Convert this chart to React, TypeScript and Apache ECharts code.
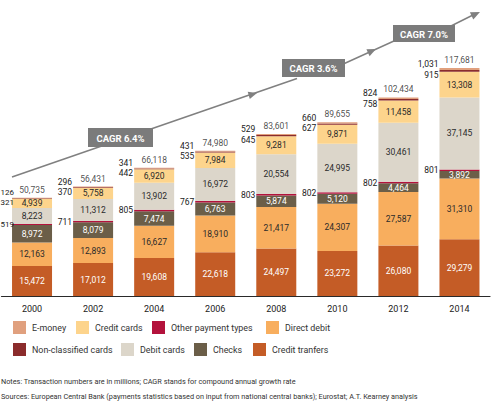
import React, { useEffect, useRef } from 'react';
import * as echarts from 'echarts';

const years = ['2000', '2002', '2004', '2006', '2008', '2010', '2012', '2014'];
const creditTransfers = [15472, 17012, 19608, 22618, 24497, 23272, 26080, 29279];
const directDebit = [12163, 12893, 16627, 18910, 21417, 24307, 27587, 31310];
const checks = [8972, 8079, 7474, 6763, 5874, 5120, 4464, 3892];
const otherPayment = [519, 711, 805, 767, 803, 802, 802, 801];
const debitCards = [8223, 11312, 13902, 16972, 20554, 24995, 30461, 37145];
const creditCards = [4939, 5758, 6920, 7984, 9281, 9871, 11458, 13308];
const nonClassified = [321, 370, 442, 535, 645, 627, 758, 915];
const eMoney = [126, 296, 341, 431, 529, 660, 824, 1031];
const totals = [50735, 56431, 66118, 74980, 83601, 89655, 102434, 117681];
const cagrLabels = ['CAGR 6.4%', 'CAGR 3.6%', 'CAGR 7.0%'];
const noteLines = [
  'Notes: Transaction numbers are in millions; CAGR stands for compound annual growth rate',
  'Sources: European Central Bank (payments statistics based on input from national central banks); Eurostat; A.T. Kearney analysis',
];

const FONT = 'Roboto, "Noto Sans", sans-serif';
const fmt = (v: number) => v.toLocaleString('en-US');

export default function App() {
  const ref = useRef<HTMLDivElement>(null);
  useEffect(() => {
    if (!ref.current) return;
    const chart = echarts.init(ref.current, null, { renderer: 'svg' });

    const insideLabel = (color: string) => ({
      show: true,
      position: 'inside',
      color,
      fontSize: 8.5,
      fontFamily: FONT,
      formatter: (p: any) => fmt(p.value),
    });
    const sideLabel = (dy: number) => ({
      show: true,
      position: 'left',
      distance: 1,
      offset: [0, dy],
      color: '#222',
      fontSize: 8.5,
      fontFamily: FONT,
      formatter: (p: any) => fmt(p.value),
    });
    // first bar sits at the chart's left edge: nudge its side labels inwards so they stay visible
    const sideData = (vals: number[], dy: number) =>
      vals.map((v, i) => (i === 0 ? { value: v, label: { offset: [3, dy], fontSize: 8 } } : v));

    const stackDefs: any[] = [
      { name: 'Credit tranfers', data: creditTransfers, color: '#c45c26', label: insideLabel('#ffffff') },
      { name: 'Direct debit', data: directDebit, color: '#f8ae5e', label: insideLabel('#2a2a2a') },
      { name: 'Checks', data: checks, color: '#6b5e48', label: insideLabel('#ffffff') },
      { name: 'Other payment types', data: sideData(otherPayment, 0), color: '#b3123c', label: sideLabel(0) },
      { name: 'Debit cards', data: debitCards, color: '#dcd6ca', label: insideLabel('#2a2a2a') },
      { name: 'Credit cards', data: creditCards, color: '#fdd48c', label: insideLabel('#2a2a2a') },
      { name: 'Non-classified cards', data: sideData(nonClassified, 4), color: '#8b2c2c', label: sideLabel(4) },
      { name: 'E-money', data: sideData(eMoney, -5), color: '#e0a07e', label: sideLabel(-5) },
    ];

    const series: any[] = stackDefs.map((d) => ({
      type: 'bar',
      name: d.name,
      stack: 'total',
      data: d.data,
      barWidth: 40,
      itemStyle: { color: d.color },
      label: d.label,
    }));
    series.push({
      type: 'scatter',
      name: 'Total',
      data: totals,
      symbolSize: 1,
      itemStyle: { color: 'rgba(0,0,0,0)' },
      label: {
        show: true,
        position: 'top',
        distance: 3,
        color: '#222',
        fontSize: 8.5,
        fontFamily: FONT,
        formatter: (p: any) => fmt(p.value),
      },
      z: 5,
    });

    const legendItems = [
      { name: 'E-money', left: 13, top: 321 },
      { name: 'Credit cards', left: 76, top: 321 },
      { name: 'Other payment types', left: 152, top: 321 },
      { name: 'Direct debit', left: 266, top: 321 },
      { name: 'Non-classified cards', left: 13, top: 343 },
      { name: 'Debit cards', left: 121, top: 343 },
      { name: 'Checks', left: 194, top: 343 },
      { name: 'Credit tranfers', left: 253, top: 343 },
    ];
    const legend = legendItems.map((it) => ({
      data: [it.name],
      left: it.left,
      top: it.top,
      padding: 0,
      icon: 'rect',
      itemWidth: 13,
      itemHeight: 13,
      selectedMode: false,
      textStyle: { fontSize: 8.9, color: '#333', fontFamily: FONT, padding: [0, 0, 0, 1] },
    }));

    const lineColor = '#808080';
    const boxColor = '#7b7b7b';
    const boxes = [
      { x: 88, y: 128, w: 65, h: 19 },
      { x: 282, y: 59, w: 63, h: 18 },
      { x: 393, y: 25, w: 62, h: 17 },
    ];
    const graphic: any[] = [
      {
        type: 'polyline',
        shape: { points: [[12, 177], [297, 78.5]] },
        style: { stroke: lineColor, lineWidth: 1.5, fill: null },
        z: 10,
      },
      {
        type: 'polyline',
        shape: { points: [[340, 65.5], [395, 40.5], [450, 26.5], [476, 13.5]] },
        style: { stroke: lineColor, lineWidth: 1.5, fill: null },
        z: 10,
      },
      {
        type: 'polygon',
        shape: { points: [[257, 93], [249.8, 99], [247.7, 91.7]] },
        style: { fill: lineColor },
        z: 11,
      },
      {
        type: 'polygon',
        shape: { points: [[376, 49], [369.6, 56.2], [366.4, 49.2]] },
        style: { fill: lineColor },
        z: 11,
      },
      {
        type: 'polygon',
        shape: { points: [[480, 12], [473.3, 19.5], [469.9, 12.3]] },
        style: { fill: lineColor },
        z: 11,
      },
    ];
    boxes.forEach((b, i) => {
      graphic.push({
        type: 'rect',
        shape: { x: b.x, y: b.y, width: b.w, height: b.h },
        style: { fill: boxColor },
        z: 12,
      });
      graphic.push({
        type: 'text',
        x: b.x + b.w / 2,
        y: b.y + b.h / 2 + 0.5,
        style: {
          text: cagrLabels[i],
          fill: '#ffffff',
          font: `bold 9.5px ${FONT}`,
          textAlign: 'center',
          textVerticalAlign: 'middle',
        },
        z: 13,
      });
    });
    noteLines.forEach((t, i) => {
      graphic.push({
        type: 'text',
        x: 1,
        y: 381 + i * 15,
        style: {
          text: t,
          fill: '#333',
          font: `7.3px ${FONT}`,
          textAlign: 'left',
          textVerticalAlign: 'middle',
        },
        z: 13,
      });
    });

    chart.setOption({
      animation: false,
      backgroundColor: '#ffffff',
      grid: { left: 1.5, right: 10, top: 44, bottom: 109, containLabel: false },
      legend,
      xAxis: {
        type: 'category',
        data: years,
        axisLine: { lineStyle: { color: '#2a2a2a', width: 1.2 } },
        axisTick: { show: false },
        axisLabel: { color: '#222', fontSize: 9, fontWeight: 'normal', fontFamily: FONT, margin: 8 },
      },
      yAxis: {
        type: 'value',
        min: 0,
        max: 130000,
        show: false,
        splitLine: { show: false },
      },
      series,
      graphic,
    });
    return () => chart.dispose();
  }, []);

  return (
    <div
      ref={ref}
      style={{ position: 'fixed', left: 0, top: 0, width: 500, height: 405, background: '#fff' }}
    />
  );
}
